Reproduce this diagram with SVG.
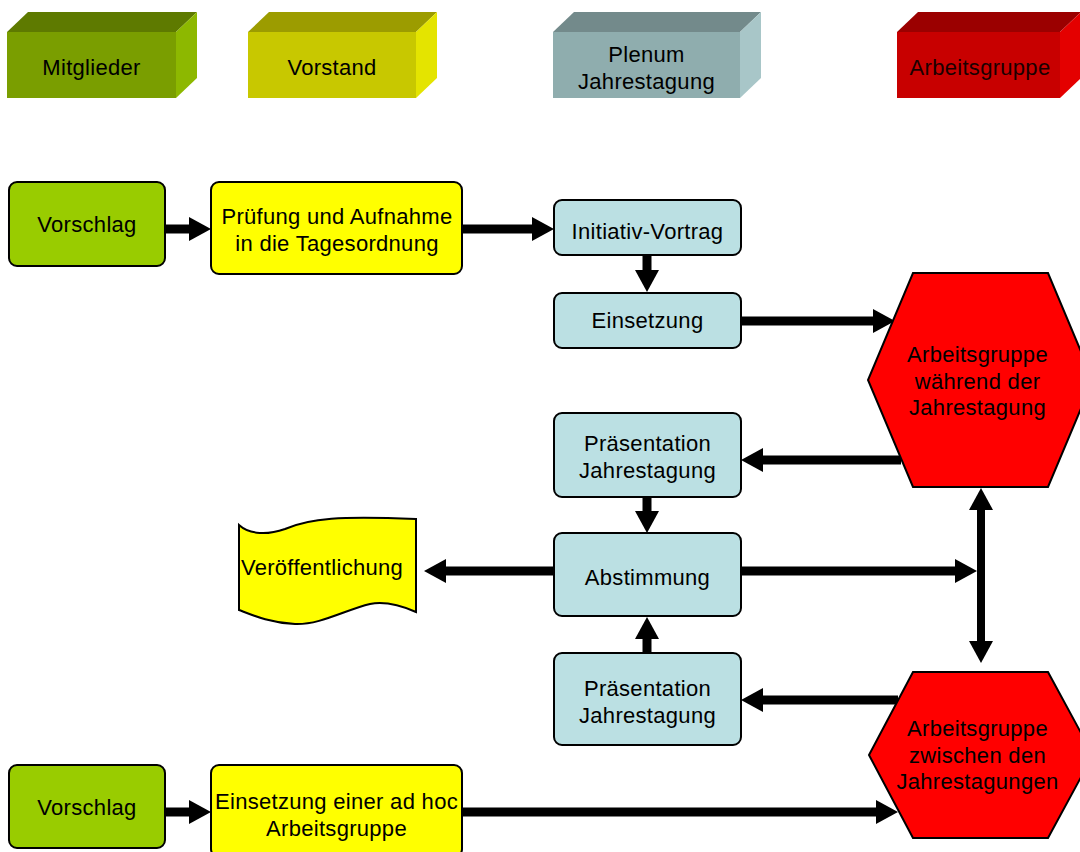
<svg xmlns="http://www.w3.org/2000/svg" width="1080" height="852" viewBox="0 0 1080 852">
<defs>
<style>
text{font-family:"Liberation Sans",Arial,sans-serif;font-size:22px;letter-spacing:0.3px;fill:#000;text-anchor:middle}
.box{stroke:#000;stroke-width:2}
.green{fill:#99CC00}
.yellow{fill:#FFFF00}
.blue{fill:#BBE0E3}
.red{fill:#FF0000}
.conn line{stroke:#000;stroke-width:9;fill:none;marker-end:url(#ah)}
</style>
<marker id="ah" viewBox="0 0 22 24" markerWidth="22" markerHeight="24" markerUnits="userSpaceOnUse" refX="1" refY="12" orient="auto-start-reverse">
<path d="M0,0 L22,12 L0,24 Z" fill="#000"/>
</marker>
</defs>
<rect width="1080" height="852" fill="#fff"/>

<g id="legend-mitglieder">
<polygon points="7,32 28,12 197,12 176,32" fill="#5E7A00"/>
<polygon points="176,32 197,12 197,78 176,98" fill="#8DB800"/>
<rect x="7" y="32" width="169" height="66" fill="#7A9E00"/>
<text x="91.5" y="75">Mitglieder</text>
</g>
<g id="legend-vorstand">
<polygon points="248,32 269,12 437,12 416,32" fill="#9C9C00"/>
<polygon points="416,32 437,12 437,78 416,98" fill="#E4E400"/>
<rect x="248" y="32" width="168" height="66" fill="#C8C800"/>
<text x="332" y="75">Vorstand</text>
</g>
<g id="legend-plenum">
<polygon points="553,32 574,12 761,12 740,32" fill="#738A8B"/>
<polygon points="740,32 761,12 761,78 740,98" fill="#A8C6C8"/>
<rect x="553" y="32" width="187" height="66" fill="#8FADAE"/>
<text x="646.5" y="62">Plenum</text>
<text x="646.5" y="89">Jahrestagung</text>
</g>
<g id="legend-arbeitsgruppe">
<polygon points="897,32 918,12 1081,12 1060,32" fill="#9B0000"/>
<polygon points="1060,32 1081,12 1081,78 1060,98" fill="#E40000"/>
<rect x="897" y="32" width="163" height="66" fill="#C80000"/>
<text x="980" y="75" style="fill:#1a0000">Arbeitsgruppe</text>
</g>

<g class="conn" id="connectors">
<line x1="165" y1="229" x2="190" y2="229"/>
<line x1="462" y1="229" x2="533" y2="229"/>
<line x1="647" y1="255" x2="647" y2="271"/>
<line x1="741" y1="321" x2="874" y2="321"/>
<line x1="901" y1="460" x2="762" y2="460"/>
<line x1="647" y1="497" x2="647" y2="512"/>
<line x1="554" y1="571" x2="445" y2="571"/>
<line x1="741" y1="571" x2="956" y2="571"/>
<line x1="981" y1="509" x2="981" y2="642" style="stroke-width:8;marker-start:url(#ah)"/>
<line x1="647" y1="653" x2="647" y2="638"/>
<line x1="898" y1="700" x2="762" y2="700"/>
<line x1="462" y1="812" x2="877" y2="812"/>
<line x1="165" y1="812" x2="190" y2="812"/>
</g>

<g id="vorschlag1">
<rect class="box green" x="9" y="182" width="156" height="84" rx="8"/>
<text x="87" y="232">Vorschlag</text>
</g>
<g id="pruefung">
<rect class="box yellow" x="211" y="182" width="251" height="92" rx="8"/>
<text x="337" y="224">Prüfung und Aufnahme</text>
<text x="337" y="251">in die Tagesordnung</text>
</g>
<g id="initiativ">
<rect class="box blue" x="554" y="200" width="187" height="55" rx="8"/>
<text x="647.5" y="239">Initiativ-Vortrag</text>
</g>
<g id="einsetzung">
<rect class="box blue" x="554" y="293" width="187" height="55" rx="8"/>
<text x="647.5" y="328">Einsetzung</text>
</g>
<g id="praesentation1">
<rect class="box blue" x="554" y="413" width="187" height="84" rx="8"/>
<text x="647.5" y="451">Präsentation</text>
<text x="647.5" y="477.5">Jahrestagung</text>
</g>
<g id="abstimmung">
<rect class="box blue" x="554" y="533" width="187" height="83" rx="8"/>
<text x="647.5" y="585">Abstimmung</text>
</g>
<g id="praesentation2">
<rect class="box blue" x="554" y="653" width="187" height="92" rx="8"/>
<text x="647.5" y="696">Präsentation</text>
<text x="647.5" y="722.5">Jahrestagung</text>
</g>
<g id="veroeffentlichung">
<path class="box yellow" d="M239,525 C250,535 268,535 285,529 C310,518 340,516 416,519 L416,612 C400,605 385,601 370,604 C345,610 320,625 295,624 C270,623 252,615 239,610 Z"/>
<text x="322" y="575">Veröffentlichung</text>
</g>
<g id="ag-waehrend">
<polygon class="box red" points="913,273 1048,273 1093,380 1048,487 913,487 868,380"/>
<text x="977.5" y="362">Arbeitsgruppe</text>
<text x="977.5" y="388.5">während der</text>
<text x="977.5" y="415">Jahrestagung</text>
</g>
<g id="ag-zwischen">
<polygon class="box red" points="913,672 1048,672 1093,755 1048,838 913,838 869,755"/>
<text x="977.5" y="736">Arbeitsgruppe</text>
<text x="977.5" y="763">zwischen den</text>
<text x="977.5" y="789">Jahrestagungen</text>
</g>
<g id="vorschlag2">
<rect class="box green" x="9" y="765" width="156" height="83" rx="8"/>
<text x="87" y="815">Vorschlag</text>
</g>
<g id="einsetzung-adhoc">
<rect class="box yellow" x="211" y="765" width="251" height="92" rx="8"/>
<text x="336.5" y="809">Einsetzung einer ad hoc</text>
<text x="336.5" y="836">Arbeitsgruppe</text>
</g>
</svg>
